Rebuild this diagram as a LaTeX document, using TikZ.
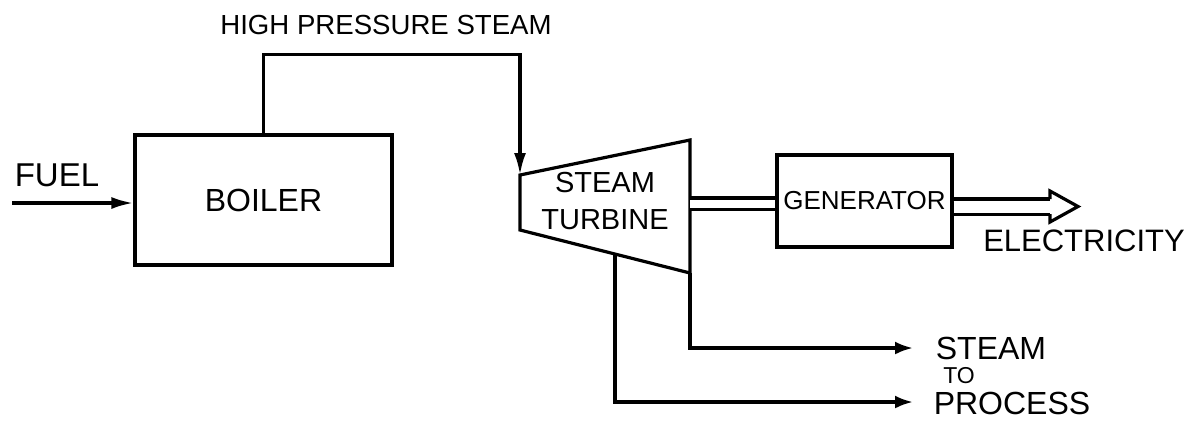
\documentclass[tikz,border=0pt]{standalone}
\usepackage{fontspec}
\setmainfont{Liberation Sans}
\usetikzlibrary{arrows.meta}
\newcommand{\sz}[1]{\fontsize{#1}{#1}\selectfont}

\begin{document}
\begin{tikzpicture}[x=.5pt,y=-.5pt,line width=1.6pt,
    unit/.style={draw,rectangle,inner sep=0pt},
    lbl/.style={inner sep=0pt},
    feed/.style={-{Latex[length=11pt,width=6pt]}},
    drain/.style={-{Latex[length=9pt,width=6.5pt]}}]
  \useasboundingbox (0,0) rectangle (1198,420);
  \node[unit,minimum width=128.5pt,minimum height=65pt] (boiler) at (263.5,200) {\sz{16}BOILER};
  \node[unit,minimum width=87.5pt,minimum height=46pt] (gen) at (864.5,201) {\sz{13}GENERATOR};
  \coordinate (tA) at (520,175);
  \coordinate (tB) at (690,140);
  \coordinate (tC) at (690,273);
  \coordinate (tD) at (520,230);
  \draw (tA) -- (tB) -- (tC) -- (tD) -- cycle;
  \node[lbl,align=center,font=\fontsize{14.5}{18.3}\selectfont] (turb) at (605,201) {STEAM\\TURBINE};
  \node[lbl] (fuel) at (57,175) {\sz{16.5}FUEL};
  \node[lbl] (hps) at (386,25) {\sz{13.8}HIGH PRESSURE STEAM};
  \node[lbl] (elec) at (1084,241) {\sz{15.5}ELECTRICITY};
  \node[lbl] (stm) at (991,348) {\sz{16}STEAM};
  \node[lbl] (to) at (959,376) {\sz{11.5}TO};
  \node[lbl] (proc) at (1012,403) {\sz{16}PROCESS};
  \coordinate (fuelin) at (12,203);
  \coordinate (shaft) at (690,203.5);
  \coordinate (tip) at (1078,206.5);
  \coordinate (ext) at (615,254);
  \coordinate (out1) at (913,348);
  \coordinate (out2) at (913,402);
  \draw[feed] (fuelin) -- (fuelin -| boiler.west);
  \draw[feed] (boiler.north) -- ++(0,-79) -| (tA);
  \draw[double,double distance=4pt] (shaft) -- (shaft -| gen.west);
  \draw[double,double distance=6pt] (gen.east |- tip) -- (1050,206.5);
  \draw (1050,199) -- (1050,191) -- (tip) -- (1050,222) -- (1050,214);
  \draw[drain] (tC) |- (out1);
  \draw[drain] (ext) |- (out2);
\end{tikzpicture}
\end{document}
